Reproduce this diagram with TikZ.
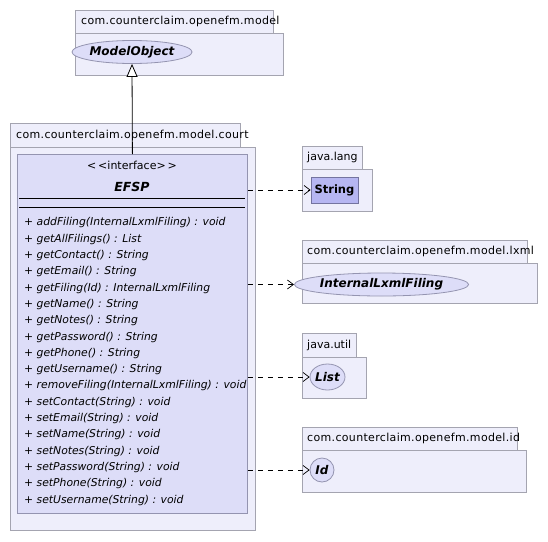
\documentclass[tikz,border=0pt]{standalone}
\usepackage{fontspec}
\setmainfont{DejaVu Sans}
\usetikzlibrary{arrows.meta,positioning,shapes.geometric}

\definecolor{pkgfill}{HTML}{EEEEFB}
\definecolor{pkgline}{HTML}{A4A4B0}
\definecolor{classfill}{HTML}{DDDDF8}
\definecolor{classline}{HTML}{9494B0}
\definecolor{strfill}{HTML}{B6B6F2}
\definecolor{strline}{HTML}{7474A0}

\begin{document}
\begin{tikzpicture}[x=1pt, y=-1pt,
  pkg/.style={draw=pkgline, fill=pkgfill, line width=0.8pt},
  pkglabel/.style={anchor=west, inner sep=0pt, font=\fontsize{11}{12}\selectfont},
  pkglabelwide/.style={pkglabel, font=\fontsize{11}{12}\selectfont\addfontfeature{LetterSpace=3}},
  classbox/.style={draw=classline, fill=classfill, line width=0.8pt, inner sep=0pt},
  iface/.style={ellipse, draw=classline, fill=classfill, line width=0.8pt, inner sep=0pt, font=\fontsize{12}{13}\selectfont\bfseries\itshape},
  method/.style={anchor=west, inner sep=0pt, font=\fontsize{10.8}{12}\selectfont\itshape},
  depends/.style={dash pattern=on 5pt off 5pt, line width=0.7pt, -{Straight Barb[length=6pt,width=9pt]}},
  inherit/.style={line width=0.8pt, -{Triangle[open,length=13pt,width=11pt,fill=white]}}]
  \useasboundingbox (0,0) rectangle (548,541);

  % package com.counterclaim.openefm.model
  \draw[pkg] (75,10) rectangle (273,33);
  \draw[pkg] (75,33) rectangle (283,75);
  \node[pkglabelwide] (modelpkg) at (81,21.5) {com.counterclaim.openefm.model};
  \node[iface, minimum width=100pt, minimum height=23pt] (modelobj) at (132,52) {ModelObject};

  % package com.counterclaim.openefm.model.court
  \draw[pkg] (10,123) rectangle (240,147);
  \draw[pkg] (10,147) rectangle (255,530);
  \node[pkglabelwide] (courtpkg) at (16,135) {com.counterclaim.openefm.model.court};

  % EFSP interface
  \node[classbox, minimum width=230pt, minimum height=359pt, anchor=north west] (efsp) at (17,154) {};
  \node[inner sep=0pt, font=\fontsize{11}{12}\selectfont] (efspstereo) at (132,165) {<\,<interface>\,>};
  \node[inner sep=0pt, font=\fontsize{12.5}{13}\selectfont\bfseries\itshape] (efspname) at (132,187) {EFSP};
  \draw[line width=0.8pt] (19,198) -- (245,198);
  \draw[line width=0.8pt] (19,207) -- (245,207);
  \foreach \m [count=\i] in {{addFiling(InternalLxmlFiling) : void}, {getAllFilings() : List},
      {getContact() : String}, {getEmail() : String}, {getFiling(Id) : InternalLxmlFiling},
      {getName() : String}, {getNotes() : String}, {getPassword() : String},
      {getPhone() : String}, {getUsername() : String}, {removeFiling(InternalLxmlFiling) : void},
      {setContact(String) : void}, {setEmail(String) : void}, {setName(String) : void},
      {setNotes(String) : void}, {setPassword(String) : void}, {setPhone(String) : void},
      {setUsername(String) : void}} {
    \pgfmathsetmacro{\my}{223+16.3*(\i-1)}
    \node[method] (m\i) at (24,\my) {+ \m};
  }

  % package java.lang
  \draw[pkg] (302,146) rectangle (362,169);
  \draw[pkg] (302,169) rectangle (372,211);
  \node[pkglabel] (langpkg) at (307,157.5) {java.lang};
  \node[draw=strline, fill=strfill, line width=0.8pt, inner sep=0pt, minimum width=47pt, minimum height=26pt,
        font=\fontsize{11.5}{12}\selectfont\bfseries] (strcls) at (334.5,190) {String};

  % package com.counterclaim.openefm.model.lxml
  \draw[pkg] (302,240) rectangle (527,263);
  \draw[pkg] (302,263) rectangle (537,303);
  \node[pkglabelwide] (lxmlpkg) at (307,251.5) {com.counterclaim.openefm.model.lxml};
  \node[iface, minimum width=143pt, minimum height=23pt] (filing) at (381.5,284.5) {InternalLxmlFiling};

  % package java.util
  \draw[pkg] (302,333) rectangle (356,357);
  \draw[pkg] (302,357) rectangle (366,398);
  \node[pkglabel] (utilpkg) at (307,345) {java.util};
  \node[iface, minimum width=35pt, minimum height=26pt] (list) at (327.5,377) {List};

  % package com.counterclaim.openefm.model.id
  \draw[pkg] (302,427) rectangle (517,450);
  \draw[pkg] (302,450) rectangle (526,492);
  \node[pkglabelwide] (idpkg) at (307,438.5) {com.counterclaim.openefm.model.id};
  \node[iface, circle, minimum size=24pt] (idcls) at (322,470) {Id};

  % relations
  \draw[inherit] (efsp.north) -- (modelobj.south);
  \draw[depends] (efsp.east |- strcls.west) -- (strcls.west);
  \draw[depends] (efsp.east |- filing.west) -- (filing.west);
  \draw[depends] (efsp.east |- list.west) -- (list.west);
  \draw[depends] (efsp.east |- idcls.west) -- (idcls.west);
\end{tikzpicture}
\end{document}
